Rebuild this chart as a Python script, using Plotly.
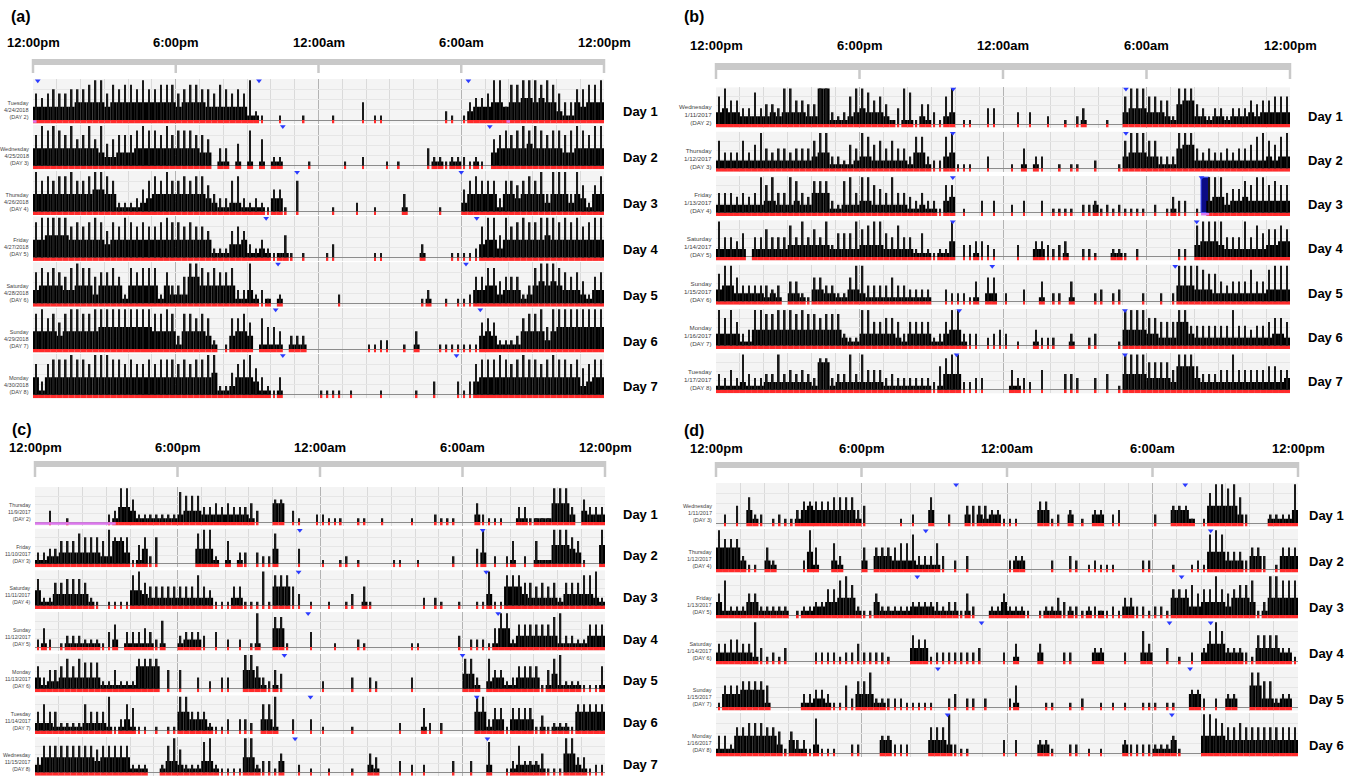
import plotly.graph_objects as go

W, H = 1358, 779
BPH = 4            # 15-minute bins, 96 per day, day starts at 12:00pm
NB = 96

TIME_LABELS = ["12:00pm", "6:00pm", "12:00am", "6:00am", "12:00pm"]
TIME_HOURS = [0, 6, 12, 18, 24]

# ---------------- Panel (a) ----------------
A_WEEKDAY = ["Tuesday", "Wednesday", "Thursday", "Friday", "Saturday", "Sunday", "Monday"]
A_DATE = ["4/24/2018", "4/25/2018", "4/26/2018", "4/27/2018", "4/28/2018", "4/29/2018", "4/30/2018"]
A_STUDY = [2, 3, 4, 5, 6, 7, 8]
A_MEAN = [
    "3333 3334 4444 3444 4444 4444 3444 4333 3333 1100 0000 0000 0000 0000 0000 0000 0000 0000 0233 3443 4455 4544 2114 3444",
    "4444 4444 4443 2233 3444 4444 4444 3301 1010 1010 1100 0000 0000 0000 0000 0000 0001 1011 0010 0344 4445 4444 4334 4444",
    "4444 4444 4455 4411 1123 4444 4444 4321 1221 1110 3300 0000 0000 0000 0000 0010 0000 0000 2444 4414 4344 4424 4424 3144",
    "4455 5544 4444 3444 4444 4444 4444 4411 1334 1121 0110 0000 0000 0000 0000 0000 0100 0000 0003 4424 4444 4454 4444 4444",
    "3444 4334 4424 4441 4444 4142 2266 4444 4411 3101 0100 0000 0000 0000 0000 0000 0010 0000 0033 4423 3312 4545 4333 2133",
    "4444 3444 4445 5555 5555 4444 1444 4310 0344 3011 1101 1100 0000 0000 0000 0000 1000 0000 0003 4311 1144 4424 5555 5555",
    "4144 4444 4444 4444 4444 4444 4444 4451 1244 4311 0100 0000 0000 0000 0000 0000 0000 0000 0034 4444 4444 4444 4444 2344",
]
A_PEAK = [
    "6567 6677 7899 6878 8797 7888 6788 7768 7676 9210 0100 0100 0010 0004 0110 0000 0000 0210 1455 6992 8899 9898 6447 7889",
    "7989 8796 7969 5677 7898 8797 8887 7604 4050 8060 2200 0010 0000 1002 0001 0100 0042 2122 2121 0678 7898 9878 8789 8799",
    "9787 8897 7899 8722 2357 8797 7878 8643 3783 2321 5510 7000 0010 0020 0100 0040 0000 1000 5787 7737 7678 7949 9949 6268",
    "8999 9978 7898 6879 8787 7898 8787 7622 2676 3242 1151 0100 0130 0000 0110 0000 0300 0011 1127 9959 7898 8999 8989 7899",
    "7878 7689 8867 7862 8788 8274 4699 8787 7833 9231 0200 0000 0002 0000 0000 0000 0130 0101 1266 8856 6624 8999 8767 5267",
    "8978 6899 8899 9999 9999 8898 3887 8720 1778 6075 5403 3300 0000 0000 1122 0010 4000 1111 1116 7622 2378 8959 9999 9999",
    "7378 8898 8799 9887 8778 7888 7878 8992 2578 9642 1400 0000 1111 0100 0010 0000 1003 0003 1378 8898 7898 8789 8878 6788",
]
A_BLUE = [[0.2, 9.5, 18.3], [10.5, 19.2], [11.1, 18.0], [9.8, 18.65], [10.3, 18.2], [10.2, 18.8], [10.5, 17.8]]
A_MAGENTA = [[(0.0, 0.15), (19.9, 20.05)], [], [], [], [], [], []]
A_NAVY = [[], [], [], [], [], [], []]

# ---------------- Panel (b) ----------------
B_WEEKDAY = ["Wednesday", "Thursday", "Friday", "Saturday", "Sunday", "Monday", "Tuesday"]
B_DATE = ["1/11/2017", "1/12/2017", "1/13/2017", "1/14/2017", "1/15/2017", "1/16/2017", "1/17/2017"]
B_STUDY = [2, 3, 4, 5, 6, 7, 8]
B_MEAN = [
    "3433 2222 2323 3332 2991 1123 4333 2101 1021 0023 0000 0000 0000 0000 0000 0100 0000 3444 3332 1566 2212 2122 2323 3333",
    "2222 2222 2222 2222 3441 1112 3322 2222 1441 0034 0000 0000 0001 0100 0000 0000 0000 3444 3311 1566 2222 2222 2222 3233",
    "2222 2222 3322 2322 5551 1222 3322 2222 1121 1034 0000 0000 0000 0000 0000 0002 0000 0000 0000 1000 0034 4233 4333 3333",
    "2222 2022 2222 3333 3332 2222 3333 2222 2111 0114 0001 0000 0000 0220 0010 0000 0011 0000 0000 0000 3444 3222 2222 3344",
    "3442 2222 1210 2210 3322 1133 2111 1111 1111 0000 0001 0220 0000 0010 0001 0000 0000 0000 0000 0444 3332 2222 2222 3333",
    "3333 1144 4444 4444 4444 4211 3333 3321 3333 1134 4100 0000 0000 0100 0001 0000 0000 4444 3322 2663 2222 2222 2222 2332",
    "1111 2111 2222 2222 1771 2222 2222 1111 1111 0144 4000 0000 0110 0000 0000 0000 0000 4444 3333 2666 3222 2222 2222 2223",
]
B_PEAK = [
    "7966 4484 5549 9665 5993 2379 9867 5149 8155 3179 0110 0440 0030 3002 0010 2400 0100 7999 7766 2999 5424 4244 4656 6777",
    "7444 7469 5455 4555 7993 3265 9867 5755 3883 2289 1110 0300 0105 0330 0101 1002 0001 7999 7733 3999 5454 4545 5689 7689",
    "5554 5459 7955 9854 8883 2895 9976 5955 4353 3177 0100 3030 0203 0030 1111 0223 1212 1111 0201 4330 1099 9566 8799 7877",
    "9554 6055 7555 8595 7593 6669 7899 6585 5262 1229 0334 4320 0030 0443 2340 0221 0022 1020 0000 0220 8999 9555 9586 7787",
    "7996 4444 4340 5521 6644 2269 9444 4644 3333 0032 2215 0660 2003 0050 2205 0002 3023 0002 0020 2999 9877 5455 5855 8999",
    "9796 3499 8899 9898 8788 8322 9966 7763 6666 2369 9333 0234 3010 0422 2003 0023 0001 9999 7766 6995 5555 5595 5455 6776",
    "4353 9433 4494 5454 3883 4494 9555 3433 3333 2689 9223 3000 0533 2050 0044 3003 0401 9999 7777 5999 6444 5595 5555 6655",
]
B_BLUE = [[9.92, 17.14], [9.9, 17.14], [9.9, 20.3], [9.9, 20.1], [11.55, 19.2], [10.17, 17.1], [10.06, 17.1]]
B_MAGENTA = [[], [], [(20.28, 20.62)], [], [], [], []]
B_NAVY = [[], [], [(20.28, 20.62)], [], [], [], []]

# ---------------- Panel (c) ----------------
C_WEEKDAY = ["Thursday", "Friday", "Saturday", "Sunday", "Monday", "Tuesday", "Wednesday"]
C_DATE = ["11/9/2017", "11/10/2017", "11/11/2017", "11/12/2017", "11/13/2017", "11/14/2017", "11/15/2017"]
C_STUDY = [2, 3, 4, 5, 6, 7, 8]
C_MEAN = [
    "0000 0000 0000 0144 3111 1111 2333 2222 2222 1000 5500 0000 0000 0000 0000 0000 0000 0000 0020 0000 0110 1115 5520 3222",
    "1122 3333 3332 2663 0140 0000 0004 4410 1010 0000 4000 0000 0000 0000 0000 0000 0000 0000 0003 0000 1000 1115 5543 0005",
    "4113 3333 3100 0000 4432 2222 2222 2200 0220 0000 5550 0000 0000 0001 0000 0000 0000 0000 0000 3005 5532 2222 1333 3321",
    "0100 0111 1110 0201 1111 0100 1222 0000 0000 0100 5500 0000 0000 0000 0000 0000 0000 0000 0000 0155 1333 3333 1111 1333",
    "3122 3333 3331 1111 1666 6000 0000 0000 0005 5310 1000 0000 0000 0000 0000 0000 0000 0000 4410 2331 1333 3014 1111 0001",
    "2221 1111 2222 1013 1000 0000 5533 3100 0000 0033 1000 0000 0000 0000 0000 0000 0100 0000 0055 1330 3333 0101 1105 5555",
    "2444 4444 4434 4444 1110 0133 2111 3310 0004 4100 0300 0000 0000 0000 2100 0000 0000 0000 0000 2000 1222 2100 0552 1000",
]
C_PEAK = [
    "0030 0100 0000 2399 6222 2222 8777 4454 5444 5300 6603 1002 2111 0011 0010 0001 0002 1110 0052 1110 0441 1119 9940 6444",
    "3344 6668 7776 9777 1572 7000 0008 9920 6033 0322 8000 4000 1001 2010 0000 1100 1000 0020 0049 0202 6020 6119 9976 1009",
    "7226 6777 6210 1111 8965 5555 5558 5411 1551 1191 8885 3010 0100 1305 1000 0000 0202 1001 0011 9118 8866 5656 2666 8892",
    "2520 1333 2221 4604 4454 2700 3444 3040 2020 1900 8810 0040 0010 0021 0000 0001 1000 0003 0222 1599 2666 6668 9332 2666",
    "6355 6868 7772 2522 2888 8050 5003 0203 3009 9632 5400 0000 2000 0300 3200 0003 0000 0000 8830 8552 3666 6158 9222 1116",
    "5755 2222 7555 9137 6110 1011 9955 5211 3033 2077 9003 0030 1000 0100 0000 0200 0620 2000 0099 3661 6666 1412 2217 7777",
    "4777 7777 7767 7777 2220 0279 6222 8921 1119 9233 1500 2010 0100 0100 5400 0302 0200 0030 0300 8001 3733 3511 1994 4122",
]
C_BLUE = [[], [11.15, 18.85], [11.1, 19.0], [11.5, 19.5], [10.5, 18.0], [11.6, 18.6], [10.95, 19.05]]
C_MAGENTA = [[(0.0, 3.4)], [], [], [], [], [], []]
C_NAVY = [[], [], [], [], [], [], []]

# ---------------- Panel (d) ----------------
D_WEEKDAY = ["Wednesday", "Thursday", "Friday", "Saturday", "Sunday", "Monday"]
D_DATE = ["1/11/2017", "1/12/2017", "1/13/2017", "1/14/2017", "1/15/2017", "1/16/2017"]
D_STUDY = [3, 4, 5, 6, 7, 8]
D_MEAN = [
    "0000 0310 0000 0134 3333 3331 0000 0000 0003 0000 0202 1220 0000 0330 0020 0022 0000 0000 0003 3310 0444 4420 0001 1113",
    "5555 2000 2100 0004 1002 1000 2033 3222 2111 1000 0000 0000 0220 0000 0000 0000 0000 0000 0000 0000 0444 2220 3300 0333",
    "3111 1331 1111 0011 2233 4441 0031 1111 2222 1111 0100 0113 1110 0011 1010 0101 0002 2000 0004 4422 3333 2444 3014 4444",
    "2222 2210 0000 0000 0000 0000 0000 0000 3330 0000 0000 0000 0100 0200 0000 0022 0000 0022 0000 0000 2444 2220 0333 3220",
    "0333 4444 1000 0011 2210 0003 3311 0000 0000 0000 0000 0000 0100 0000 0000 0000 0000 0000 0000 0033 0000 2200 5522 1220",
    "1114 4444 4420 3110 2000 0000 0003 3000 0003 3320 0000 0000 0000 0220 0000 0000 0002 0000 1113 0000 4444 3333 3333 3333",
]
D_PEAK = [
    "0204 0622 0121 1355 5556 6663 4000 0010 2006 0020 0444 4331 1100 0551 2030 1033 0230 0000 2004 4410 1799 8962 0002 2229",
    "9777 3110 5200 0029 5006 3000 5055 5566 8333 6302 0300 0000 2330 0002 0032 0121 1100 0022 0001 0012 1898 4442 5530 1555",
    "5822 2552 2222 0122 3366 8972 1152 2222 3333 3233 1520 0225 2221 0122 4322 1221 1214 4221 2216 6675 6696 5677 8139 9888",
    "4455 4493 1213 0000 2222 1224 2222 1000 6551 2222 2223 0002 0400 0400 0220 0033 0002 0074 0030 1020 3797 3332 1666 6331",
    "1555 6666 5000 0033 4431 1526 6822 2221 1111 0023 0220 2000 2500 0011 0010 2001 0101 0011 1011 0044 2020 3300 8866 2330",
    "4426 6777 6651 5331 8111 0022 0004 4222 0006 6692 1100 0003 0300 0331 0022 0101 0003 2222 2224 1000 9987 6676 6666 6666",
]
D_BLUE = [[9.9, 19.35], [8.65, 20.4], [8.3, 19.2], [10.95, 18.7, 20.4], [9.15, 19.55], [9.55, 18.8]]
D_MAGENTA = [[], [], [], [], [], []]
D_NAVY = [[], [], [], [], [], []]

# ---------------- geometry (pixels) ----------------
PANELS = [
    dict(letter="(a)", mean=A_MEAN, peak=A_PEAK, wd=A_WEEKDAY, dt=A_DATE, sd=A_STUDY, blue=A_BLUE,
         mag=A_MAGENTA, navy=A_NAVY, x0=33, x1=604, top0=79, pitch=45.8, plot_h=41, bar=(59, 65),
         tick_bot=73, time_y=43, letter_xy=(9, 16), day_x=621, left_fs=5.5),
    dict(letter="(b)", mean=B_MEAN, peak=B_PEAK, wd=B_WEEKDAY, dt=B_DATE, sd=B_STUDY, blue=B_BLUE,
         mag=B_MAGENTA, navy=B_NAVY, x0=716, x1=1290, top0=87.4, pitch=44.3, plot_h=36.6, bar=(63, 70),
         tick_bot=79, time_y=46, letter_xy=(682, 17), day_x=1306, left_fs=6.2),
    dict(letter="(c)", mean=C_MEAN, peak=C_PEAK, wd=C_WEEKDAY, dt=C_DATE, sd=C_STUDY, blue=C_BLUE,
         mag=C_MAGENTA, navy=C_NAVY, x0=35, x1=605, top0=487, pitch=41.7, plot_h=35, bar=(461, 467),
         tick_bot=477, time_y=447.5, letter_xy=(10, 429.5), day_x=621, left_fs=5.2),
    dict(letter="(d)", mean=D_MEAN, peak=D_PEAK, wd=D_WEEKDAY, dt=D_DATE, sd=D_STUDY, blue=D_BLUE,
         mag=D_MAGENTA, navy=D_NAVY, x0=716, x1=1298, top0=483, pitch=46, plot_h=40, bar=(462, 468),
         tick_bot=477, time_y=448.5, letter_xy=(682, 430.5), day_x=1307, left_fs=5.5),
]

RED_H = 3.5
YMAX = 9.3
BOLD = "Liberation Sans, Arial, sans-serif"
GRAY = "#c9c9c9"


def decode(s):
    d = [int(c) for c in s if c.isdigit()]
    return (d + [0] * NB)[:NB]


def px(x):
    return x / W


def py(y):
    return 1 - y / H


fig = go.Figure()
layout = dict(width=W, height=H, margin=dict(l=0, r=0, t=0, b=0), paper_bgcolor="white",
              plot_bgcolor="#f4f4f4", showlegend=False, barmode="overlay")
shapes, annos = [], []
n = 0
for P in PANELS:
    x0, x1 = P["x0"], P["x1"]
    lx, ly = P["letter_xy"]
    annos.append(dict(text="<b>%s</b>" % P["letter"], x=px(lx), y=py(ly), xref="paper", yref="paper",
                      xanchor="left", yanchor="middle", showarrow=False,
                      font=dict(family=BOLD, size=16, color="black")))
    shapes.append(dict(type="rect", xref="paper", yref="paper", x0=px(x0 - 1), x1=px(x1 + 1),
                       y0=py(P["bar"][1]), y1=py(P["bar"][0]), fillcolor=GRAY, line=dict(width=0)))
    for h, lab in zip(TIME_HOURS, TIME_LABELS):
        tx = x0 + (x1 - x0) * h / 24
        shapes.append(dict(type="line", xref="paper", yref="paper", x0=px(tx), x1=px(tx),
                           y0=py(P["bar"][0]), y1=py(P["tick_bot"]), line=dict(color=GRAY, width=2.5)))
        annos.append(dict(text="<b>%s</b>" % lab, x=px(tx), y=py(P["time_y"]), xref="paper", yref="paper",
                          xanchor="center", yanchor="middle", showarrow=False,
                          font=dict(family=BOLD, size=13, color="black")))
    red_units = YMAX * RED_H / P["plot_h"]
    for k in range(len(P["mean"])):
        n += 1
        sfx = "" if n == 1 else str(n)
        top = P["top0"] + k * P["pitch"]
        base_px = top + P["plot_h"]
        bottom = base_px + RED_H
        layout["xaxis" + sfx] = dict(domain=[px(x0), px(x1)], range=[0, 24], anchor="y" + sfx,
                                     showticklabels=False, ticks="", tick0=0, dtick=6, showgrid=True,
                                     gridcolor="#b3b3b3", gridwidth=1, zeroline=False, showline=False,
                                     minor=dict(tick0=0, dtick=1, showgrid=True, gridcolor="#dadada",
                                                gridwidth=1),
                                     fixedrange=True)
        layout["yaxis" + sfx] = dict(domain=[py(bottom), py(top)], range=[-red_units, YMAX], anchor="x" + sfx,
                                     showticklabels=False, ticks="", tick0=0, dtick=2.3, showgrid=True,
                                     gridcolor="#e6e6e6", zeroline=True, zerolinecolor="#8c8c8c",
                                     zerolinewidth=1, fixedrange=True)
        xr, yr = "x" + sfx, "y" + sfx
        M = decode(P["mean"][k])
        Pk = decode(P["peak"][k])
        cx = [(i + 0.5) / BPH for i in range(NB)]
        rx, rw = [], []
        for i in range(NB):
            if M[i] > 0:
                rx.append(cx[i]); rw.append(1.0 / BPH)
            elif Pk[i] > 0:
                rx.append(cx[i]); rw.append(0.07)
        fig.add_trace(go.Bar(x=rx, y=[red_units] * len(rx), base=[-red_units] * len(rx), width=rw,
                             marker=dict(color="#ff2b2b", line=dict(width=0)), xaxis=xr, yaxis=yr,
                             hoverinfo="skip"))
        for (a, b) in P["mag"][k]:
            fig.add_trace(go.Scatter(x=[a, b], y=[-red_units * 0.45] * 2, mode="lines",
                                     line=dict(color="#dd77ee", width=2.5), xaxis=xr, yaxis=yr,
                                     hoverinfo="skip"))
        for (a, b) in P["navy"][k]:
            fig.add_trace(go.Bar(x=[(a + b) / 2], y=[YMAX - 0.3], base=[0], width=[b - a],
                                 marker=dict(color="#0b0b85", line=dict(color="#3a4cff", width=1)),
                                 xaxis=xr, yaxis=yr, hoverinfo="skip"))
        mi = [i for i in range(NB) if M[i] > 0]
        fig.add_trace(go.Bar(x=[cx[i] for i in mi], y=[M[i] for i in mi], width=[1.0 / BPH] * len(mi),
                             marker=dict(color="black", line=dict(width=0)), xaxis=xr, yaxis=yr,
                             hoverinfo="skip"))
        pi = [i for i in range(NB) if Pk[i] > 0]
        fig.add_trace(go.Bar(x=[cx[i] for i in pi], y=[max(Pk[i], M[i]) for i in pi],
                             width=[0.07] * len(pi), marker=dict(color="#1a1a1a", line=dict(width=0)),
                             xaxis=xr, yaxis=yr, hoverinfo="skip"))
        if P["blue"][k]:
            fig.add_trace(go.Scatter(x=P["blue"][k], y=[YMAX - 0.4] * len(P["blue"][k]), mode="markers",
                                     marker=dict(symbol="triangle-down", size=5, color="#2b3bff"),
                                     cliponaxis=False, xaxis=xr, yaxis=yr, hoverinfo="skip"))
        annos.append(dict(text="<b>Day %d</b>" % (k + 1), x=px(P["day_x"]), y=py(base_px - 8),
                          xref="paper", yref="paper", xanchor="left", yanchor="middle", showarrow=False,
                          font=dict(family=BOLD, size=13, color="black")))
        annos.append(dict(text="%s<br>%s<br>(DAY %d)" % (P["wd"][k], P["dt"][k], P["sd"][k]),
                          x=px(x0 - 2), y=py(base_px - 10), xref="paper", yref="paper",
                          xanchor="right", yanchor="middle", align="right", showarrow=False,
                          font=dict(family="Liberation Sans, Arial, sans-serif", size=P["left_fs"],
                                    color="#444444")))

layout["shapes"] = shapes
layout["annotations"] = annos
fig.update_layout(**layout)
fig.write_html("out.html", config={"displayModeBar": False},
               post_script="document.body.style.margin='0';document.body.style.overflow='hidden';")
